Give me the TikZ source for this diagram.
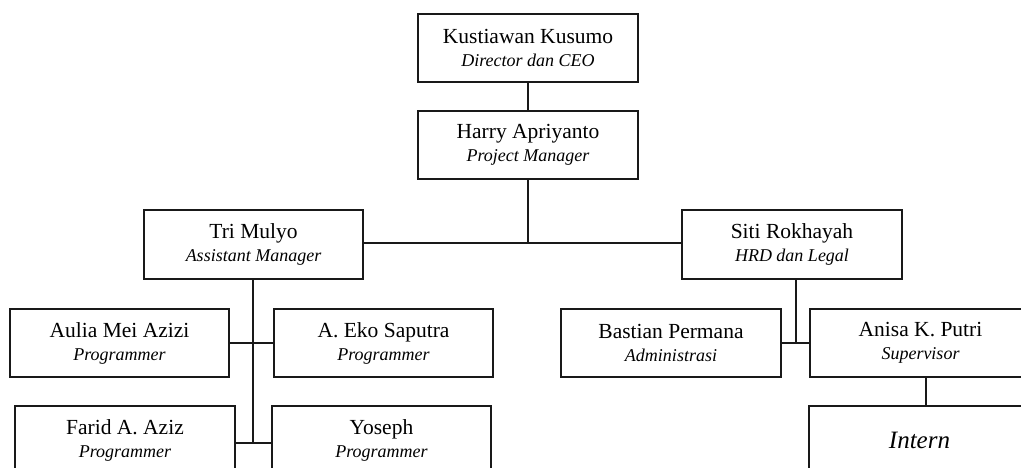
\documentclass[tikz,border=0pt]{standalone}
\usepackage{fontspec}
\setmainfont{Liberation Serif}
\newcommand{\nm}[1]{{\fontsize{21.5}{23}\selectfont #1}}
\newcommand{\rl}[1]{{\fontsize{18}{23}\selectfont\itshape #1}}
\begin{document}
\begin{tikzpicture}[x=1pt,y=-1pt,
  box/.style={draw=black!90, line width=2.2pt, minimum width=220pt, minimum height=68pt,
    inner sep=0pt, align=center, font=\fontsize{18}{23}\selectfont},
  conn/.style={draw=black!90, line width=2.2pt}]
\useasboundingbox (0,0) rectangle (1021,468);
\clip (0,0) rectangle (1021,468);
\node[box] (K) at (528,48) {\nm{Kustiawan Kusumo}\\\rl{Director dan CEO}};
\node[box] (H) at (528,145) {\nm{Harry Apriyanto}\\\rl{Project Manager}};
\node[box, minimum width=219pt, minimum height=69pt] (T) at (253.5,244.5) {\nm{Tri Mulyo}\\\rl{Assistant Manager}};
\node[box, minimum height=69pt] (S) at (792,244.5) {\nm{Siti Rokhayah}\\\rl{HRD dan Legal}};
\node[box, minimum width=219pt] (A) at (119.5,343) {\nm{Aulia Mei Azizi}\\\rl{Programmer}};
\node[box, minimum width=219pt] (E) at (383.5,343) {\nm{A. Eko Saputra}\\\rl{Programmer}};
\node[box] (F) at (125,440) {\nm{Farid A. Aziz}\\\rl{Programmer}};
\node[box, minimum width=219pt] (Y) at (381.5,440) {\nm{Yoseph}\\\rl{Programmer}};
\node[box] (B) at (671,343) {\nm{Bastian Permana}\\\rl{Administrasi}};
\node[box, minimum width=221pt] (N) at (920.5,343) {\nm{Anisa K. Putri}\\\rl{Supervisor}};
\node[box, minimum width=221pt] (I) at (919.5,440) {{\fontsize{25}{28}\selectfont\itshape Intern}};
\coordinate (hj) at (528,243);
\coordinate (tj) at (253,443);
\coordinate (sj) at (796,343);
\coordinate (aj) at (926,0);
\draw[conn] (K.south) -- (H.north);
\draw[conn] (H.south) -- (hj);
\draw[conn] (T.east |- hj) -- (S.west |- hj);
\draw[conn] (T.south -| tj) -- (tj);
\draw[conn] (A.east) -- (E.west);
\draw[conn] (F.east |- tj) -- (Y.west |- tj);
\draw[conn] (S.south -| sj) -- (sj);
\draw[conn] (B.east) -- (N.west);
\draw[conn] (N.south -| aj) -- (I.north -| aj);
\end{tikzpicture}
\end{document}
